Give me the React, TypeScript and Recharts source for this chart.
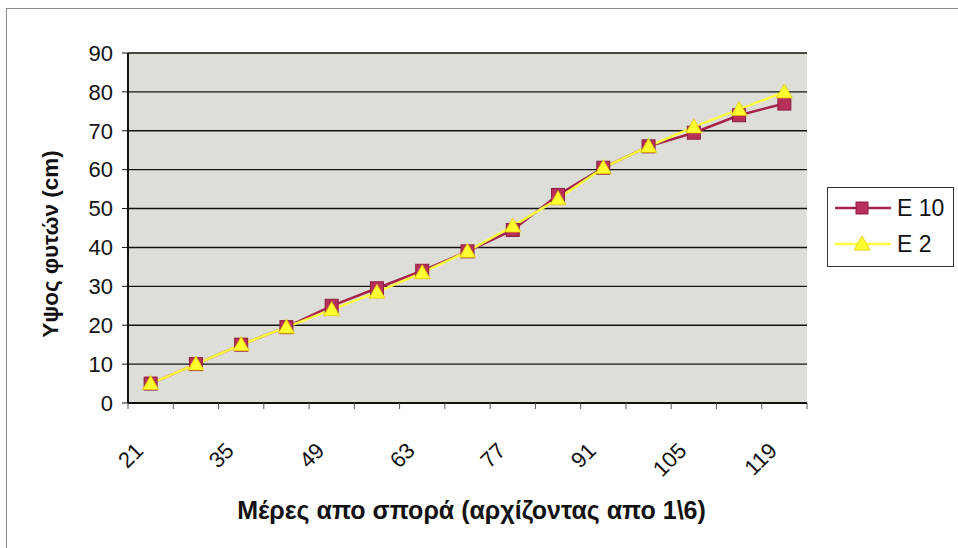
import { LineChart, Line, XAxis, YAxis, CartesianGrid, Label } from "recharts";

const days = [21, 28, 35, 42, 49, 56, 63, 70, 77, 84, 91, 98, 105, 112, 119];
const e10 = [5, 10, 15, 19.5, 25, 29.5, 34, 39, 44.5, 53.5, 60.5, 66, 69.5, 74, 77];
const e2 = [5, 10, 15, 19.5, 24, 28.5, 33.5, 39, 45.5, 52.5, 60.5, 66, 71, 75.5, 80];
const dayLabels = [21, 35, 49, 63, 77, 91, 105, 119];
const heightTicks = [0, 10, 20, 30, 40, 50, 60, 70, 80, 90];
const seriesNames = ["E 10", "E 2"];

const data = days.map((d, i) => ({ day: d, e10: e10[i], e2: e2[i] }));

// category boundaries (Excel puts the tick marks between categories)
const half = (days[1] - days[0]) / 2;
const boundaries = [days[0] - half, ...days.map((d) => d + half)];
const labelSet = new Set(dayLabels);

const FONT = '"Liberation Sans", Arial, sans-serif';
const RED = "#a6234c";
const YELLOW = "#ffff40";

const DayTick = ({ x, y, payload }: any) => {
  const v = payload.value;
  if (!labelSet.has(v)) {
    return <line x1={x} x2={x} y1={y} y2={y + 6} stroke="#555" strokeWidth={1} />;
  }
  const tx = x - 17;
  const ty = y + 38;
  return (
    <text
      x={tx}
      y={ty}
      dy="0.71em"
      textAnchor="end"
      fontSize={22}
      fill="#111"
      fontFamily={FONT}
      transform={`rotate(-45, ${tx}, ${ty})`}
    >
      {v}
    </text>
  );
};

const SquareDot = ({ cx, cy, index }: any) => (
  <rect
    key={`s${index}`}
    x={cx - 6.5}
    y={cy - 6.5}
    width={13}
    height={13}
    fill="#b8305a"
    stroke="#8c1d40"
    strokeWidth={1}
  />
);

const TriangleDot = ({ cx, cy, index }: any) => (
  <path
    key={`t${index}`}
    d={`M${cx},${cy - 8} L${cx + 8},${cy + 6} L${cx - 8},${cy + 6} Z`}
    fill="#ffff30"
    stroke="#e6c400"
    strokeWidth={0.8}
  />
);

const LegendIcon = ({ color, square }: { color: string; square: boolean }) => (
  <svg width={56} height={20} style={{ display: "block" }}>
    <line x1={0} x2={56} y1={10} y2={10} stroke={color} strokeWidth={2.5} />
    {square ? (
      <rect x={21} y={4} width={12} height={12} fill="#b8305a" stroke="#8c1d40" />
    ) : (
      <path d="M27,2 L35,16 L19,16 Z" fill="#ffff30" stroke="#e6c400" strokeWidth={0.8} />
    )}
  </svg>
);

export default function App() {
  return (
    <div style={{ position: "relative", width: 958, height: 548, overflow: "hidden", background: "#fff" }}>
      <style>{"body{margin:0}"}</style>
      {/* outer chart frame */}
      <div
        style={{
          position: "absolute",
          left: 6,
          top: 8,
          width: 1000,
          height: 600,
          borderLeft: "1.5px solid #8a8a8a",
          borderTop: "1.5px solid #8a8a8a",
        }}
      />
      <LineChart
        width={958}
        height={548}
        data={data}
        margin={{ top: 53, right: 151, left: 68, bottom: 0 }}
        style={{ position: "absolute", left: 0, top: 0 }}
      >
        <CartesianGrid vertical={false} stroke="#111" strokeWidth={1.4} fill="#dedeD8" fillOpacity={1} />
        <XAxis
          dataKey="day"
          type="number"
          domain={[boundaries[0], boundaries[boundaries.length - 1]]}
          ticks={[...boundaries, ...dayLabels].sort((a, b) => a - b)}
          interval={0}
          tick={<DayTick />}
          tickLine={false}
          tickSize={0}
          tickMargin={0}
          axisLine={{ stroke: "#111", strokeWidth: 2 }}
          height={145}
        >
          <Label
            value="Μέρες απο σπορά (αρχίζοντας απο 1\6)"
            position="insideBottom"
            offset={29}
            dx={4}
            style={{ fontSize: 25, fontWeight: 700, fill: "#111", fontFamily: FONT }}
          />
        </XAxis>
        <YAxis
          domain={[0, 90]}
          ticks={heightTicks}
          interval={0}
          width={60}
          tickSize={6}
          tickMargin={9}
          tick={{ fontSize: 22, fill: "#111", fontFamily: FONT }}
          tickLine={{ stroke: "#111" }}
          axisLine={{ stroke: "#111", strokeWidth: 2 }}
        >
          <Label
            value="Υψος φυτών (cm)"
            angle={-90}
            position="center"
            dx={-48}
            dy={16}
            style={{ fontSize: 22.5, fontWeight: 700, fill: "#111", fontFamily: FONT, textAnchor: "middle" }}
          />
        </YAxis>
        <YAxis
          yAxisId="r"
          orientation="right"
          domain={[0, 90]}
          width={0}
          tick={false}
          tickLine={false}
          axisLine={{ stroke: "#666", strokeWidth: 1.5 }}
        />
        <Line
          dataKey="e10"
          name={seriesNames[0]}
          stroke={RED}
          strokeWidth={2.5}
          dot={<SquareDot />}
          activeDot={false}
          isAnimationActive={false}
        />
        <Line
          dataKey="e2"
          name={seriesNames[1]}
          stroke={YELLOW}
          strokeWidth={2.5}
          dot={<TriangleDot />}
          activeDot={false}
          isAnimationActive={false}
        />
      </LineChart>
      {/* legend */}
      <div
        style={{
          position: "absolute",
          left: 827,
          top: 187,
          width: 127,
          height: 80,
          border: "1px solid #333",
          background: "#fff",
          fontFamily: FONT,
          fontSize: 23,
          color: "#111",
          boxSizing: "border-box",
        }}
      >
        {seriesNames.map((name, i) => (
          <div
            key={name}
            style={{ position: "absolute", left: 7, top: i === 0 ? 10 : 46, display: "flex", alignItems: "center" }}
          >
            <LegendIcon color={i === 0 ? RED : YELLOW} square={i === 0} />
            <span style={{ marginLeft: 6, lineHeight: "20px" }}>{name}</span>
          </div>
        ))}
      </div>
    </div>
  );
}
